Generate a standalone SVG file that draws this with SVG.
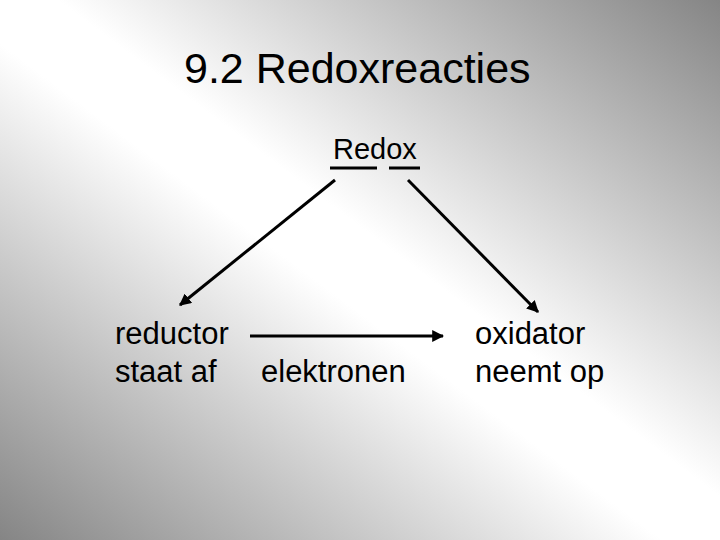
<svg xmlns="http://www.w3.org/2000/svg" width="720" height="540" viewBox="0 0 720 540">
  <defs>
    <linearGradient id="bg" gradientUnits="userSpaceOnUse" x1="619.2" y1="-75.6" x2="100.8" y2="615.6">
      <stop offset="0" stop-color="#858585"/>
      <stop offset="0.46" stop-color="#ffffff"/>
      <stop offset="0.54" stop-color="#ffffff"/>
      <stop offset="1" stop-color="#858585"/>
    </linearGradient>
    <marker id="ah" viewBox="0 0 10 10" refX="9" refY="5" markerWidth="4" markerHeight="4" orient="auto" markerUnits="strokeWidth">
      <path d="M0,0 L10,5 L0,10 z" fill="#000"/>
    </marker>
    <style>
      text { font-family: "Liberation Sans", Arial, sans-serif; fill: #000; }
      .title { font-size: 43px; }
      .lbl { font-size: 31px; }
      .redox { font-size: 29px; }
      .conn { stroke: #000; stroke-width: 3; fill: none; marker-end: url(#ah); }
      .ul { stroke: #000; stroke-width: 3; }
    </style>
  </defs>
  <rect width="720" height="540" fill="url(#bg)"/>
  <g id="title">
    <text class="title" x="184" y="83">9.2 Redoxreacties</text>
  </g>
  <g id="redox">
    <text class="redox" x="333" y="159">Redox</text>
    <line class="ul" x1="330" y1="168" x2="377" y2="168"/>
    <line class="ul" x1="389" y1="168" x2="420" y2="168"/>
  </g>
  <g id="reductor">
    <text class="lbl" x="115" y="344">reductor</text>
    <text class="lbl" x="115" y="382">staat af</text>
  </g>
  <g id="elektronen">
    <text class="lbl" x="261" y="382">elektronen</text>
  </g>
  <g id="oxidator">
    <text class="lbl" x="475" y="344">oxidator</text>
    <text class="lbl" x="475" y="382">neemt op</text>
  </g>
  <g id="connectors">
    <line class="conn" x1="335" y1="180" x2="180" y2="305"/>
    <line class="conn" x1="408" y1="180" x2="538" y2="312"/>
    <line class="conn" x1="250" y1="336" x2="443" y2="336"/>
  </g>
</svg>
